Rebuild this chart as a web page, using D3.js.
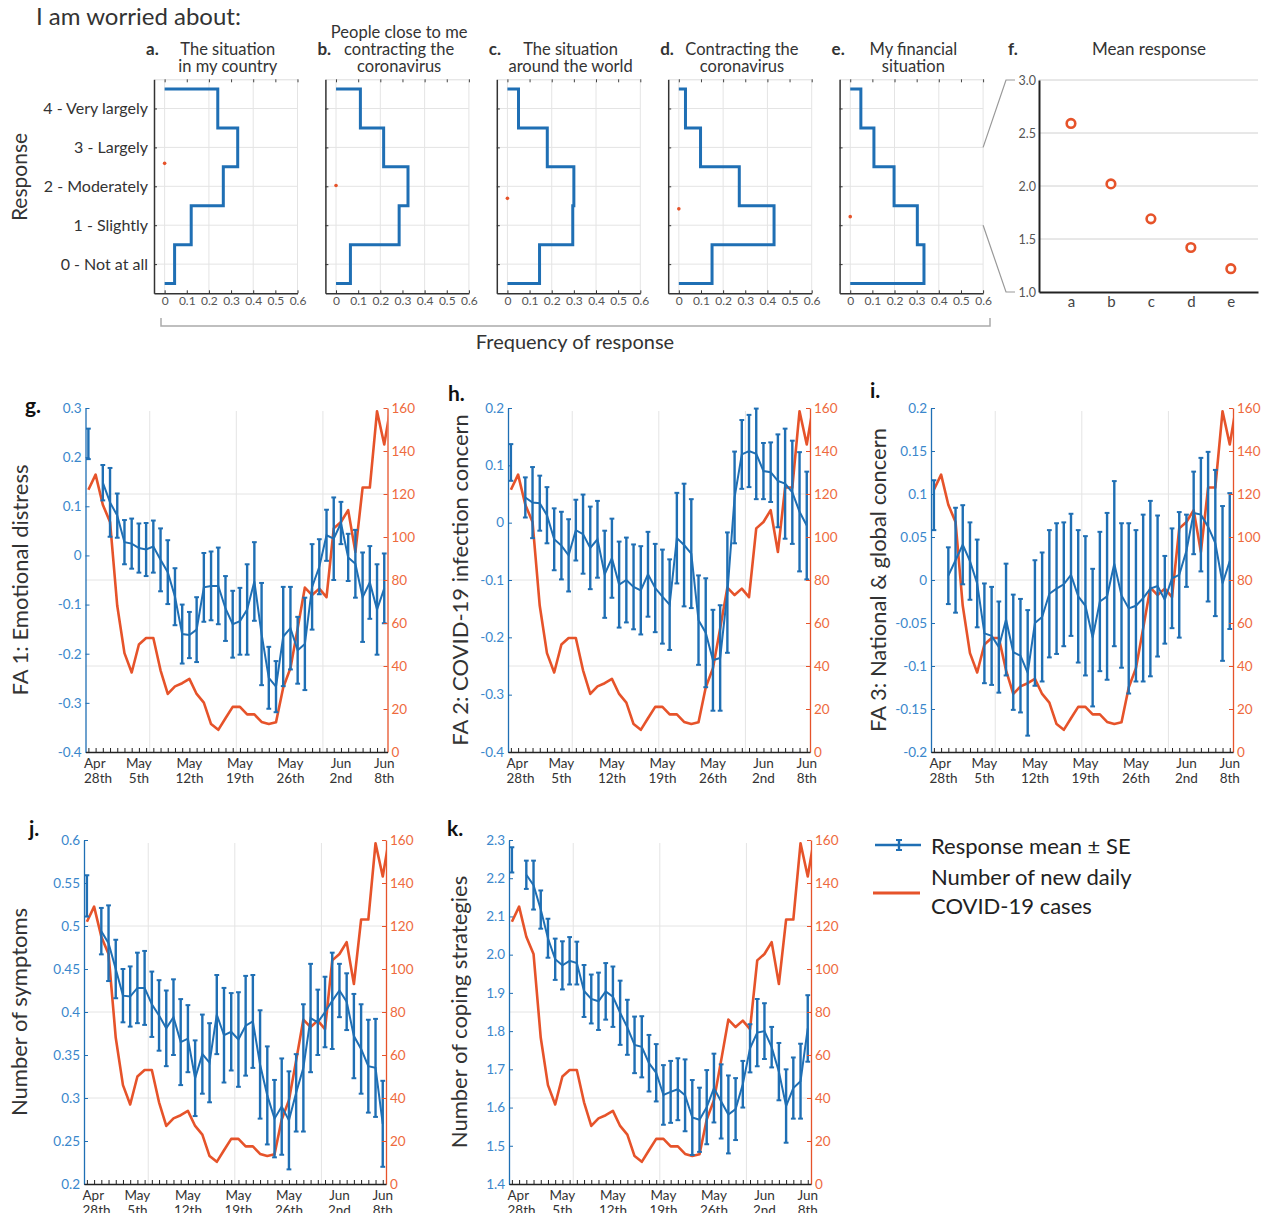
<!DOCTYPE html>
<html>
<head>
<meta charset="utf-8">
<script src="https://cdn.jsdelivr.net/npm/d3@7"></script>
<style>
  body { margin: 0; background: #fff; }
  svg { font-family: Lato, "Open Sans", sans-serif; }
</style>
</head>
<body>
<div id="chart"></div>
<script>
// ---------- data: "I am worried about" ----------
const responseLabels = ["0 - Not at all", "1 - Slightly", "2 - Moderately", "3 - Largely", "4 - Very largely"];
const worryLetters = ["a", "b", "c", "d", "e"];
const worryTitles = [
    ["The situation", "in my country"],
    ["People close to me", "contracting the", "coronavirus"],
    ["The situation", "around the world"],
    ["Contracting the", "coronavirus"],
    ["My financial", "situation"]
];
// frequency of each response level 0..4
const freqCountry   = [0.045, 0.12, 0.265, 0.33, 0.24];
const freqClose     = [0.065, 0.285, 0.325, 0.215, 0.11];
const freqWorld     = [0.145, 0.295, 0.30, 0.18, 0.05];
const freqContract  = [0.15, 0.43, 0.273, 0.098, 0.03];
const freqFinancial = [0.333, 0.303, 0.198, 0.107, 0.048];
const meanResponse  = [2.59, 2.02, 1.69, 1.42, 1.22];
const freqTicks = [0, 0.1, 0.2, 0.3, 0.4, 0.5, 0.6];
const meanTicks = [1.0, 1.5, 2.0, 2.5, 3.0];

// ---------- data: time series Apr 28th .. Jun 8th ----------
const dateTickDays = [0, 7, 14, 21, 28, 35, 41];
const dateTickLabels = [["Apr", "28th"], ["May", "5th"], ["May", "12th"], ["May", "19th"], ["May", "26th"], ["Jun", "2nd"], ["Jun", "8th"]];
const caseTicks = [0, 20, 40, 60, 80, 100, 120, 140, 160];
const newCases = [122, 129, 115, 107, 68, 46, 37, 50, 53, 53, 38, 27, 30.5, 32, 34, 27, 23, 13, 10.3, 15.7, 21, 21, 17.5, 17.5, 14, 13, 13.8, 30, 39, 57.5, 76.5, 73, 76, 72, 104, 107, 112.5, 93, 123, 123, 158.5, 143, 163];

const fa1Ticks = [-0.4, -0.3, -0.2, -0.1, 0, 0.1, 0.2, 0.3];
const fa1Mean = [0.227, null, 0.148, 0.108, 0.081, 0.027, 0.024, 0.015, 0.012, 0.018, -0.009, -0.034, -0.084, -0.16, -0.162, -0.151, -0.065, -0.062, -0.062, -0.108, -0.14, -0.134, -0.11, -0.053, -0.16, -0.249, -0.267, -0.165, -0.148, -0.193, -0.18, -0.064, -0.023, 0.041, 0.034, 0.066, -0.004, -0.017, -0.085, -0.055, -0.11, -0.067];
const fa1Se   = [0.031, null, 0.036, 0.07, 0.045, 0.045, 0.051, 0.05, 0.054, 0.053, 0.064, 0.065, 0.058, 0.06, 0.047, 0.066, 0.07, 0.07, 0.078, 0.066, 0.068, 0.068, 0.092, 0.08, 0.104, 0.063, 0.052, 0.101, 0.084, 0.068, 0.094, 0.087, 0.056, 0.052, 0.084, 0.043, 0.048, 0.069, 0.091, 0.074, 0.092, 0.071];

const fa2Ticks = [-0.4, -0.3, -0.2, -0.1, 0, 0.1, 0.2];
const fa2Mean = [0.105, null, 0.044, 0.035, 0.034, 0.013, -0.029, -0.04, -0.057, -0.013, -0.02, -0.044, -0.029, -0.09, -0.062, -0.108, -0.1, -0.112, -0.118, -0.09, -0.114, -0.129, -0.143, -0.027, -0.039, -0.054, -0.17, -0.192, -0.24, -0.236, -0.122, 0.044, 0.119, 0.125, 0.12, 0.09, 0.088, 0.073, 0.068, 0.053, 0.019, -0.005];
const fa2Se   = [0.032, null, 0.035, 0.062, 0.048, 0.049, 0.054, 0.059, 0.063, 0.053, 0.069, 0.072, 0.067, 0.076, 0.069, 0.075, 0.074, 0.074, 0.077, 0.074, 0.077, 0.082, 0.079, 0.079, 0.107, 0.095, 0.078, 0.095, 0.088, 0.092, 0.105, 0.08, 0.06, 0.063, 0.079, 0.049, 0.052, 0.081, 0.096, 0.09, 0.104, 0.094];

const fa3Ticks = [-0.2, -0.15, -0.1, -0.05, 0, 0.05, 0.1, 0.15, 0.2];
const fa3Mean = [0.087, null, 0.005, 0.023, 0.041, 0.022, -0.004, -0.062, -0.065, -0.078, -0.046, -0.084, -0.088, -0.108, -0.05, -0.043, -0.016, -0.01, -0.005, 0.006, -0.019, -0.03, -0.067, -0.025, -0.019, 0.019, -0.018, -0.033, -0.03, -0.021, -0.01, -0.007, -0.023, 0.002, 0.006, 0.034, 0.078, 0.076, 0.062, 0.043, -0.004, 0.022];
const fa3Se   = [0.029, null, 0.033, 0.061, 0.046, 0.045, 0.051, 0.058, 0.057, 0.053, 0.065, 0.067, 0.066, 0.073, 0.073, 0.075, 0.074, 0.076, 0.072, 0.071, 0.077, 0.081, 0.08, 0.081, 0.097, 0.096, 0.084, 0.099, 0.088, 0.097, 0.102, 0.082, 0.051, 0.058, 0.073, 0.042, 0.048, 0.066, 0.087, 0.085, 0.09, 0.079];

const symptomTicks = [0.2, 0.25, 0.3, 0.35, 0.4, 0.45, 0.5, 0.55, 0.6];
const symptomMean = [0.535, null, 0.494, 0.48, 0.45, 0.419, 0.418, 0.428, 0.428, 0.409, 0.396, 0.381, 0.394, 0.365, 0.369, 0.323, 0.351, 0.341, 0.397, 0.373, 0.377, 0.368, 0.384, 0.389, 0.339, 0.303, 0.276, 0.29, 0.274, 0.306, 0.335, 0.393, 0.388, 0.4, 0.413, 0.425, 0.412, 0.372, 0.357, 0.337, 0.335, 0.27];
const symptomSe   = [0.024, null, 0.027, 0.044, 0.034, 0.031, 0.035, 0.041, 0.043, 0.038, 0.041, 0.044, 0.044, 0.05, 0.039, 0.044, 0.046, 0.046, 0.046, 0.055, 0.045, 0.055, 0.058, 0.054, 0.063, 0.057, 0.045, 0.056, 0.057, 0.045, 0.074, 0.063, 0.038, 0.041, 0.056, 0.031, 0.033, 0.049, 0.052, 0.054, 0.057, 0.05];

const copingTicks = [1.4, 1.5, 1.6, 1.7, 1.8, 1.9, 2.0, 2.1, 2.2, 2.3];
const copingMean = [2.248, null, 2.209, 2.182, 2.118, 2.043, 1.988, 1.972, 1.984, 1.978, 1.905, 1.884, 1.878, 1.904, 1.89, 1.848, 1.81, 1.764, 1.759, 1.716, 1.691, 1.633, 1.641, 1.648, 1.632, 1.574, 1.568, 1.601, 1.651, 1.616, 1.582, 1.596, 1.661, 1.755, 1.796, 1.8, 1.758, 1.694, 1.604, 1.651, 1.669, 1.807];
const copingSe   = [0.033, null, 0.037, 0.064, 0.05, 0.051, 0.054, 0.063, 0.062, 0.056, 0.068, 0.064, 0.075, 0.074, 0.079, 0.084, 0.072, 0.074, 0.08, 0.074, 0.075, 0.078, 0.081, 0.081, 0.094, 0.098, 0.084, 0.097, 0.09, 0.097, 0.102, 0.081, 0.061, 0.063, 0.088, 0.073, 0.053, 0.075, 0.096, 0.08, 0.098, 0.087];

// ---------- styles ----------
const blue = "#1f6fb4";
const orange = "#e6532a";
const gridColor = "#e4e4e4";
const darkText = "#333";

const svg = d3.select("#chart")
    .append("svg")
    .attr("width", 1264)
    .attr("height", 1213);

// ========== top row: response histograms ==========
svg.append("text")
    .attr("x", 36)
    .attr("y", 25)
    .attr("font-size", 24)
    .attr("fill", darkText)
    .text("I am worried about:");

svg.append("text")
    .attr("transform", "translate(27,177) rotate(-90)")
    .attr("text-anchor", "middle")
    .attr("font-size", 21)
    .attr("fill", darkText)
    .text("Response");

const worryFreqs = [freqCountry, freqClose, freqWorld, freqContract, freqFinancial];
const histTop = 79.3, histBottom = 293.3, histWidth = 143.5;
const histY = d3.scaleLinear().domain([-0.75, 4.75]).range([histBottom, histTop]);
const levels = responseLabels.map((_, k) => k);
let lastHistX = null;

worryFreqs.forEach(function(freq, i) {
    const left = 154 + i * 171.4;
    const x = d3.scaleLinear().domain([-0.048, 0.6]).range([left, left + histWidth]);
    lastHistX = x;
    const g = svg.append("g");

    // grid
    g.selectAll(".hg").data(levels).enter().append("line")
        .attr("x1", left).attr("x2", x(0.6))
        .attr("y1", d => histY(d)).attr("y2", d => histY(d))
        .attr("stroke", gridColor);
    g.selectAll(".vg").data([0, 0.2, 0.4, 0.6]).enter().append("line")
        .attr("x1", d => x(d)).attr("x2", d => x(d))
        .attr("y1", histTop).attr("y2", histBottom)
        .attr("stroke", gridColor);

    // top edge with ticks
    g.append("g")
        .attr("transform", `translate(0,${histTop})`)
        .call(d3.axisTop(x).tickValues(freqTicks).tickSize(-3).tickSizeOuter(0).tickFormat(""))
        .call(a => a.select(".domain").attr("stroke", "#ddd"))
        .call(a => a.selectAll(".tick line").attr("stroke", "#444"));

    // bottom axis
    g.append("g")
        .attr("transform", `translate(0,${histBottom})`)
        .call(d3.axisBottom(x).tickValues(freqTicks).tickSize(-3).tickSizeOuter(0).tickPadding(3).tickFormat(d3.format("")))
        .call(a => a.select(".domain").attr("stroke", "#333").attr("stroke-width", 1.5))
        .call(a => a.selectAll(".tick line").attr("stroke", "#333"))
        .call(a => a.selectAll(".tick text").attr("fill", "#555").attr("font-size", 12).attr("font-family", "Lato"));

    // left axis
    g.append("g")
        .attr("transform", `translate(${left},0)`)
        .call(d3.axisLeft(histY).tickValues(levels).tickSize(-3).tickSizeOuter(0).tickPadding(6)
            .tickFormat(d => i === 0 ? responseLabels[d] : ""))
        .call(a => a.select(".domain").attr("stroke", "#333").attr("stroke-width", 1.5))
        .call(a => a.selectAll(".tick line").attr("stroke", "#333"))
        .call(a => a.selectAll(".tick text").attr("fill", darkText).attr("font-size", 16).attr("font-family", "Lato"));

    // stairs outline
    const steps = [[0, 4.5]];
    for (let k = 4; k >= 0; k--) {
        steps.push([freq[k], k + 0.5]);
        steps.push([freq[k], k - 0.5]);
    }
    steps.push([0, -0.5]);
    g.append("path")
        .datum(steps)
        .attr("fill", "none")
        .attr("stroke", blue)
        .attr("stroke-width", 3)
        .attr("d", d3.line().x(d => x(d[0])).y(d => histY(d[1])));

    // mean marker
    g.append("circle")
        .attr("cx", x(0))
        .attr("cy", histY(meanResponse[i]))
        .attr("r", 1.8)
        .attr("fill", orange);

    // titles
    const title = worryTitles[i];
    const cx = (left + x(0.6)) / 2 + 2;
    title.forEach(function(line, j) {
        g.append("text")
            .attr("x", cx)
            .attr("y", 72 - (title.length - 1 - j) * 17)
            .attr("text-anchor", "middle")
            .attr("font-size", 16.5)
            .attr("fill", darkText)
            .text(line);
    });
    g.append("text")
        .attr("x", left - 8)
        .attr("y", 55)
        .attr("font-size", 17)
        .attr("font-weight", "bold")
        .attr("fill", darkText)
        .text(worryLetters[i] + ".");
});

// bracket + shared x label
svg.append("path")
    .attr("d", "M161,318V326H990V318")
    .attr("fill", "none")
    .attr("stroke", "#aaa")
    .attr("stroke-width", 1.5);
svg.append("text")
    .attr("x", 575)
    .attr("y", 349)
    .attr("text-anchor", "middle")
    .attr("font-size", 20)
    .attr("fill", darkText)
    .text("Frequency of response");

// ========== panel f: mean response ==========
const fX = d3.scaleLinear().domain([0.2, 5.68]).range([1039, 1258]);
const fY = d3.scaleLinear().domain([1, 3]).range([292, 80]);
const fg = svg.append("g");

fg.selectAll(".fgrid").data(meanTicks.slice(1)).enter().append("line")
    .attr("x1", fX(0.2)).attr("x2", fX(5.68))
    .attr("y1", d => fY(d)).attr("y2", d => fY(d))
    .attr("stroke", "#d0d0d0");

fg.append("g")
    .attr("transform", `translate(${fX(0.2)},0)`)
    .call(d3.axisLeft(fY).tickValues(meanTicks).tickSize(0).tickPadding(3).tickFormat(d3.format(".1f")))
    .call(a => a.select(".domain").attr("stroke", "#222").attr("stroke-width", 2))
    .call(a => a.selectAll(".tick text").attr("fill", "#555").attr("font-size", 12.5).attr("font-family", "Lato"));

fg.append("g")
    .attr("transform", `translate(0,${fY(1)})`)
    .call(d3.axisBottom(fX).tickValues(worryLetters.map((_, i) => i + 1)).tickSize(0).tickPadding(4)
        .tickFormat(d => worryLetters[d - 1]))
    .call(a => a.select(".domain").attr("stroke", "#222").attr("stroke-width", 2))
    .call(a => a.selectAll(".tick text").attr("fill", "#444").attr("font-size", 15).attr("font-family", "Lato"));

fg.selectAll(".mean").data(meanResponse).enter().append("circle")
    .attr("cx", (d, i) => fX(i + 1))
    .attr("cy", d => fY(d))
    .attr("r", 4.3)
    .attr("fill", "#fff")
    .attr("stroke", orange)
    .attr("stroke-width", 2.6);

fg.append("text")
    .attr("x", 1008).attr("y", 55)
    .attr("font-size", 17).attr("font-weight", "bold").attr("fill", darkText)
    .text("f.");
fg.append("text")
    .attr("x", 1149).attr("y", 55)
    .attr("text-anchor", "middle").attr("font-size", 17).attr("fill", darkText)
    .text("Mean response");

// zoom connector lines from panel e to f
const eRight = lastHistX(0.6);
[3, 1].forEach(function(v) {
    fg.append("path")
        .attr("d", `M${eRight},${histY(v)}L1006,${fY(v)}H1015`)
        .attr("fill", "none")
        .attr("stroke", "#999")
        .attr("stroke-width", 1.2);
});

// ========== time-series panels ==========
const trimFmt = d => String(+d.toFixed(2));
const timePanels = [
    {letter: "g", title: "FA 1: Emotional distress", mean: fa1Mean, se: fa1Se, domain: [-0.4, 0.3], ticks: fa1Ticks, fmt: trimFmt,
     left: 85.5, right: 387.5, top: 408, bottom: 752, labelX: 28, letterX: 25, letterY: 413},
    {letter: "h", title: "FA 2: COVID-19 infection concern", mean: fa2Mean, se: fa2Se, domain: [-0.4, 0.2], ticks: fa2Ticks, fmt: trimFmt,
     left: 508, right: 810, top: 408, bottom: 752, labelX: 468, letterX: 448, letterY: 401},
    {letter: "i", title: "FA 3: National & global concern", mean: fa3Mean, se: fa3Se, domain: [-0.2, 0.2], ticks: fa3Ticks, fmt: trimFmt,
     left: 931, right: 1233, top: 408, bottom: 752, labelX: 886, letterX: 870, letterY: 398},
    {letter: "j", title: "Number of symptoms", mean: symptomMean, se: symptomSe, domain: [0.2, 0.6], ticks: symptomTicks, fmt: trimFmt,
     left: 84, right: 386, top: 840, bottom: 1184, labelX: 27, letterX: 29, letterY: 836},
    {letter: "k", title: "Number of coping strategies", mean: copingMean, se: copingSe, domain: [1.4, 2.3], ticks: copingTicks, fmt: d3.format(".1f"),
     left: 509, right: 811, top: 840, bottom: 1184, labelX: 467, letterX: 447, letterY: 836}
];

timePanels.forEach(function(p, n) {
    const x = d3.scaleLinear().domain([-0.4, 41.45]).range([p.left, p.right]);
    const y = d3.scaleLinear().domain(p.domain).range([p.bottom, p.top]);
    const yCases = d3.scaleLinear().domain([0, 160]).range([p.bottom, p.top]);
    const g = svg.append("g");

    const clipId = "clip" + n;
    g.append("clipPath").attr("id", clipId)
        .append("rect")
        .attr("x", p.left).attr("y", p.top - 4)
        .attr("width", p.right - p.left).attr("height", p.bottom - p.top + 4);

    // grid
    g.selectAll(".hg").data([40, 80, 120]).enter().append("line")
        .attr("x1", p.left).attr("x2", p.right)
        .attr("y1", d => yCases(d)).attr("y2", d => yCases(d))
        .attr("stroke", gridColor);
    g.selectAll(".vg").data([8.5, 20.5, 32.5]).enter().append("line")
        .attr("x1", d => x(d)).attr("x2", d => x(d))
        .attr("y1", p.top + 3).attr("y2", p.bottom)
        .attr("stroke", gridColor);

    // new daily cases (right axis)
    g.append("path")
        .datum(newCases)
        .attr("clip-path", `url(#${clipId})`)
        .attr("fill", "none")
        .attr("stroke", orange)
        .attr("stroke-width", 2.6)
        .attr("stroke-linejoin", "round")
        .attr("d", d3.line().x((d, i) => x(i)).y(d => yCases(d)));

    // response mean line
    const pts = p.mean.map((m, i) => ({day: i, m: m, se: p.se[i]}));
    g.append("path")
        .datum(pts)
        .attr("fill", "none")
        .attr("stroke", blue)
        .attr("stroke-width", 2)
        .attr("d", d3.line().defined(d => d.m !== null).x(d => x(d.day)).y(d => y(d.m)));

    // error bars
    const bars = g.selectAll(".eb").data(pts.filter(d => d.m !== null)).enter().append("g");
    bars.append("line")
        .attr("x1", d => x(d.day)).attr("x2", d => x(d.day))
        .attr("y1", d => y(d.m - d.se)).attr("y2", d => y(d.m + d.se))
        .attr("stroke", blue).attr("stroke-width", 2.4);
    [-1, 1].forEach(function(s) {
        bars.append("line")
            .attr("x1", d => x(d.day) - 2.4).attr("x2", d => x(d.day) + 2.4)
            .attr("y1", d => y(d.m + s * d.se)).attr("y2", d => y(d.m + s * d.se))
            .attr("stroke", blue).attr("stroke-width", 2);
    });

    // left axis
    g.append("g")
        .attr("transform", `translate(${p.left},0)`)
        .call(d3.axisLeft(y).tickValues(p.ticks).tickSize(-4).tickSizeOuter(0).tickPadding(4).tickFormat(p.fmt))
        .call(a => a.select(".domain").attr("stroke", blue).attr("stroke-width", 1.3))
        .call(a => a.selectAll(".tick line").attr("stroke", blue))
        .call(a => a.selectAll(".tick text").attr("fill", "#3a87cc").attr("font-size", 13.5).attr("font-family", "Lato"));

    // right axis
    g.append("g")
        .attr("transform", `translate(${p.right},0)`)
        .call(d3.axisRight(yCases).tickValues(caseTicks).tickSize(-4).tickSizeOuter(0).tickPadding(4))
        .call(a => a.select(".domain").attr("stroke", orange).attr("stroke-width", 1.3))
        .call(a => a.selectAll(".tick line").attr("stroke", orange))
        .call(a => a.selectAll(".tick text").attr("fill", "#ee6a3d").attr("font-size", 13.5).attr("font-family", "Lato"));

    // bottom axis with daily ticks
    g.append("g")
        .attr("transform", `translate(0,${p.bottom})`)
        .call(d3.axisBottom(x).tickValues(d3.range(0, 42)).tickSize(-4).tickSizeOuter(0).tickFormat(""))
        .call(a => a.select(".domain").attr("stroke", "#222").attr("stroke-width", 1.3))
        .call(a => a.selectAll(".tick line").attr("stroke", "#222"));

    dateTickDays.forEach(function(day, k) {
        const first = k === 0;
        const lab = g.append("text")
            .attr("text-anchor", first ? "start" : "middle")
            .attr("font-size", 13.5)
            .attr("fill", darkText);
        dateTickLabels[k].forEach(function(line, j) {
            lab.append("tspan")
                .attr("x", first ? p.left - 1.5 : x(day))
                .attr("y", p.bottom + 16 + j * 14.5)
                .text(line);
        });
    });

    // y label and panel letter
    g.append("text")
        .attr("transform", `translate(${p.labelX},${(p.top + p.bottom) / 2}) rotate(-90)`)
        .attr("text-anchor", "middle")
        .attr("font-size", 22)
        .attr("fill", darkText)
        .text(p.title);
    g.append("text")
        .attr("x", p.letterX).attr("y", p.letterY)
        .attr("font-size", 21).attr("font-weight", "bold").attr("fill", "#111")
        .text(p.letter + ".");
});

// ========== legend ==========
const legend = svg.append("g");
legend.append("line")
    .attr("x1", 875).attr("x2", 921).attr("y1", 845).attr("y2", 845)
    .attr("stroke", blue).attr("stroke-width", 2.4);
legend.append("line")
    .attr("x1", 899).attr("x2", 899).attr("y1", 840).attr("y2", 850)
    .attr("stroke", blue).attr("stroke-width", 2.4);
[840, 850].forEach(function(yy) {
    legend.append("line")
        .attr("x1", 896).attr("x2", 902).attr("y1", yy).attr("y2", yy)
        .attr("stroke", blue).attr("stroke-width", 2);
});
legend.append("text")
    .attr("x", 931).attr("y", 854)
    .attr("font-size", 22).attr("fill", "#222")
    .text("Response mean \u00b1 SE");
legend.append("line")
    .attr("x1", 873).attr("x2", 920).attr("y1", 893).attr("y2", 893)
    .attr("stroke", orange).attr("stroke-width", 3);
legend.append("text")
    .attr("x", 931).attr("y", 885)
    .attr("font-size", 22).attr("fill", "#222")
    .text("Number of new daily");
legend.append("text")
    .attr("x", 931).attr("y", 914)
    .attr("font-size", 22).attr("fill", "#222")
    .text("COVID-19 cases");
</script>
</body>
</html>
